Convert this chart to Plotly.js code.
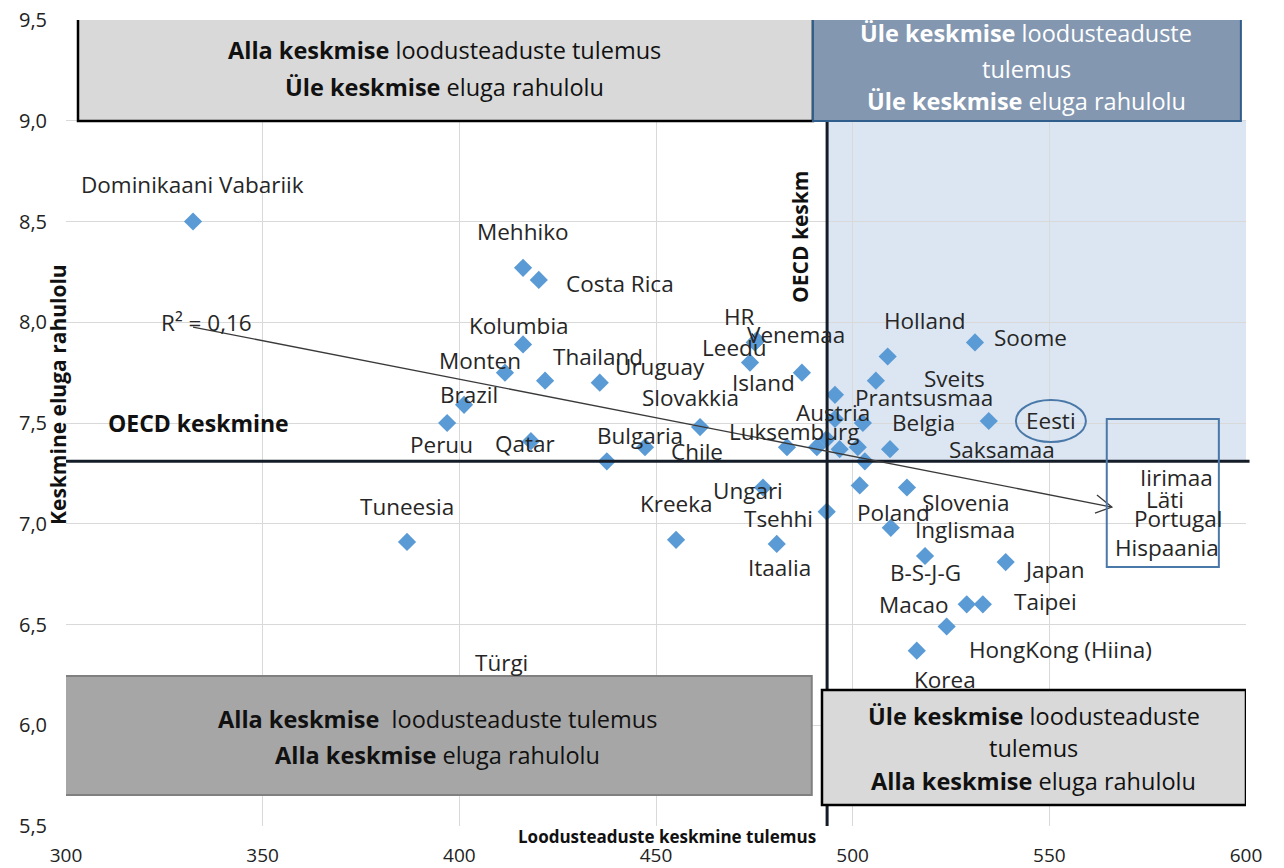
<!DOCTYPE html>
<html>
<head>
<meta charset="utf-8">
<script src="https://cdn.plot.ly/plotly-3.0.1.min.js"></script>
<style>html,body{margin:0;padding:0;background:#fff;}#chart{width:1284px;height:868px;}</style>
</head>
<body>
<div id="chart"></div>
<script>
// ---- data ----
const countries = ["Dominikaani Vabariik","Mehhiko","Costa Rica","Kolumbia","Monten","Thailand","Uruguay","Brazil","Peruu","Qatar",
  "Bulgaria","Chile","Slovakkia","Island","Leedu","HR","Venemaa","Luksemburg","Läti","Hispaania",
  "Austria","Prantsusmaa","","Portugal","Iirimaa","Belgia","Saksamaa","Holland","Sveits","Soome",
  "Eesti","Ungari","Tsehhi","Poland","Slovenia","Inglismaa","B-S-J-G","Japan","Macao","Taipei",
  "HongKong (Hiina)","Korea","Tuneesia","Kreeka","Itaalia","Türgi"];
const science = [332.3,416.2,420.2,416.2,411.6,421.8,435.7,401.2,396.9,418.2,
  437.5,447.2,461.2,473.9,475.1,475.6,487.1,483.3,490.9,493.4,
  495.5,495.5,496.7,501.3,503.1,502.6,509.5,508.9,505.9,531.1,
  534.6,477.2,493.4,501.8,513.8,509.7,518.4,538.9,529.0,533.1,
  523.9,516.3,386.7,455.1,480.7,425.0];
const lifeSatisfaction = [8.50,8.27,8.21,7.89,7.75,7.71,7.70,7.59,7.50,7.41,
  7.31,7.38,7.48,7.80,7.90,7.91,7.75,7.38,7.38,7.42,
  7.52,7.64,7.37,7.38,7.31,7.50,7.37,7.83,7.71,7.90,
  7.51,7.18,7.06,7.19,7.18,6.98,6.84,6.81,6.60,6.60,
  6.49,6.37,6.91,6.92,6.90,6.12];
const boxedCountries = ["Iirimaa","Läti","Portugal","Hispaania"];
const oecdScience = 493.5;
const oecdLife = 7.31;
const rSquared = "0,16";
const xTicks = [300,350,400,450,500,550,600];
const yTicks = [5.5,6.0,6.5,7.0,7.5,8.0,8.5,9.0,9.5];

// ---- label offsets in pixels (layout only) ----
const labelOffset = [[-1,-37],[0,-36],[81,4],[-4,-19],[-25,-12],[53,-24],[60,-16],[5,-10],[-6,21],[-6,2],
  [33,-26],[52,4],[-10,-30],[13,20],[-20,5],[-17,-24],[-6,-38],[8,-16],null,null,
  [-2,-6],[89,3],null,null,null,[61,-1],[112,0],[37,-36],[79,-2],[56,-5],
  [62,0],[-15,3],[-48,7],[34,27],[59,15],[74,2],[0,17],[49,7],[-53,0],[63,-3],
  [114,23],[28,29],[0,-35],[0,-36],[3,24],[-56,-39]];

const FONT = "Open Sans, sans-serif";
const TXT = "#262626";
const LBL = 22.5;

const trace = {
  type: "scatter", mode: "markers",
  x: science, y: lifeSatisfaction, text: countries,
  marker: {symbol: "diamond", size: 14, color: "#5b9bd5"},
  hoverinfo: "text", showlegend: false, cliponaxis: false
};

const annotations = [];
countries.forEach((c, i) => {
  const off = labelOffset[i];
  if (!off || !c) return;
  const a = {x: science[i], y: lifeSatisfaction[i], xref: "x", yref: "y", text: c,
    showarrow: false, xshift: off[0], yshift: -off[1],
    font: {family: FONT, size: LBL, color: TXT}};
  if (c === "HR") {
    a.showarrow = true; a.arrowhead = 0; a.arrowwidth = 1.2; a.arrowcolor = "#222";
    a.ax = off[0]; a.ay = off[1]; a.xshift = 0; a.yshift = 0; a.standoff = 2;
  }
  annotations.push(a);
});
// labels placed in the right-hand box
const boxLabelPos = [[582.4,7.232],[579.4,7.118],[582.7,7.024],[579.9,6.880]];
boxedCountries.forEach((c, i) => annotations.push({x: boxLabelPos[i][0], y: boxLabelPos[i][1], xref: "x", yref: "y",
  text: c, showarrow: false, font: {family: FONT, size: LBL, color: TXT}}));

annotations.push({x: 335.6, y: 8.0, xref: "x", yref: "y", text: "R² = " + rSquared, showarrow: false,
  font: {family: FONT, size: LBL, color: TXT}});
annotations.push({x: 333.8, y: 7.5, xref: "x", yref: "y", text: "<b>OECD keskmine</b>", showarrow: false,
  font: {family: FONT, size: 23, color: "#111"}});
annotations.push({x: 486.6, y: 8.423, xref: "x", yref: "y", text: "<b>OECD keskm</b>", showarrow: false, textangle: -90,
  font: {family: FONT, size: 21, color: "#111"}});
// quadrant box texts
function boxLine(x, y, html, color) {
  annotations.push({x: x, y: y, xref: "x", yref: "y", text: html, showarrow: false,
    font: {family: FONT, size: 23.5, color: color || "#111"}});
}
boxLine(396.3, 9.351, "<b>Alla keskmise</b> loodusteaduste tulemus");
boxLine(396.3, 9.167, "<b>Üle keskmise</b> eluga rahulolu");
boxLine(544.1, 9.435, "<b>Üle keskmise</b> loodusteaduste", "#fff");
boxLine(544.1, 9.257, "tulemus", "#fff");
boxLine(544.1, 9.098, "<b>Üle keskmise</b> eluga rahulolu", "#fff");
boxLine(394.5, 6.031, "<b>Alla keskmise</b>  loodusteaduste tulemus");
boxLine(394.5, 5.852, "<b>Alla keskmise</b> eluga rahulolu");
boxLine(546.1, 6.046, "<b>Üle keskmise</b> loodusteaduste");
boxLine(546.1, 5.887, "tulemus");
boxLine(546.1, 5.723, "<b>Alla keskmise</b> eluga rahulolu");
// axis titles
annotations.push({xref: "paper", yref: "paper", x: 0.5095, y: -0.0136, xanchor: "center", yanchor: "middle",
  text: "<b>Loodusteaduste keskmine tulemus</b>",
  showarrow: false, font: {family: FONT, size: 17, color: "#111"}});
annotations.push({xref: "paper", yref: "paper", x: -0.0068, y: 0.536, xanchor: "center", yanchor: "middle",
  text: "<b>Keskmine eluga rahulolu</b>", textangle: -90,
  showarrow: false, font: {family: FONT, size: 21, color: "#111"}});

const shapes = [
  // blue quadrant
  {type: "rect", layer: "below", xref: "x", yref: "y", x0: oecdScience, x1: 601, y0: oecdLife, y1: 9.0,
    fillcolor: "#dce6f2", line: {width: 0}},
  // OECD lines
  {type: "line", xref: "x", yref: "y", x0: oecdScience, x1: oecdScience, y0: 5.5, y1: 9.0, line: {color: "#141c28", width: 3}},
  {type: "line", xref: "paper", yref: "y", x0: 0, x1: 1.003, y0: oecdLife, y1: oecdLife, line: {color: "#141c28", width: 3}},
  // trend arrow (line + open chevron head)
  {type: "line", xref: "x", yref: "y", x0: 332.3, y0: 7.976, x1: 565.9, y1: 7.083, line: {color: "#3a3a3a", width: 1.3}},
  {type: "path", xref: "x", yref: "y", path: "M562.1,7.143L565.9,7.083L561.6,7.053", line: {color: "#3a3a3a", width: 1.3}},
  // quadrant boxes
  {type: "rect", xref: "x", yref: "y", x0: 303.05, x1: 489.9, y0: 8.999, y1: 9.55, fillcolor: "#d9d9d9", line: {color: "#000", width: 2.5}},
  {type: "rect", xref: "x", yref: "y", x0: 489.9, x1: 598.7, y0: 8.999, y1: 9.55, fillcolor: "#8497b0", line: {color: "#2f5d8c", width: 2}},
  {type: "rect", xref: "x", yref: "y", x0: 299.2, x1: 489.6, y0: 5.654, y1: 6.244, fillcolor: "#a6a6a6", line: {color: "#808080", width: 2}},
  {type: "rect", xref: "x", yref: "y", x0: 492.2, x1: 600, y0: 5.604, y1: 6.175, fillcolor: "#d9d9d9", line: {color: "#000", width: 2.5}},
  // Eesti ellipse and box around labels
  {type: "circle", xref: "x", yref: "y", x0: 541.5, x1: 559.3, y0: 7.406, y1: 7.614, line: {color: "#4a78a8", width: 2}},
  {type: "rect", xref: "x", yref: "y", x0: 564.6, x1: 593.1, y0: 6.785, y1: 7.52, line: {color: "#4a78a8", width: 2}}
];

const layout = {
  width: 1284, height: 868,
  margin: {l: 66, r: 38, t: 20, b: 42},
  paper_bgcolor: "#fff", plot_bgcolor: "#fff",
  separators: ", ",
  showlegend: false,
  hovermode: "closest",
  xaxis: {range: [300, 600], tickvals: xTicks, ticks: "", showgrid: true, gridcolor: "#d9d9d9", gridwidth: 1,
    zeroline: false, showline: false, ticklabelstandoff: 16,
    tickfont: {family: FONT, size: 19, color: "#222"}, fixedrange: true},
  yaxis: {range: [5.5, 9.5], tickvals: yTicks, tickformat: ".1f", ticks: "", showgrid: true, gridcolor: "#d9d9d9", gridwidth: 1,
    zeroline: false, showline: false, ticklabelstandoff: 18,
    tickfont: {family: FONT, size: 20, color: "#222"}, fixedrange: true},
  shapes: shapes,
  annotations: annotations
};

Plotly.newPlot("chart", [trace], layout, {displayModeBar: false, staticPlot: true});
</script>
</body>
</html>
